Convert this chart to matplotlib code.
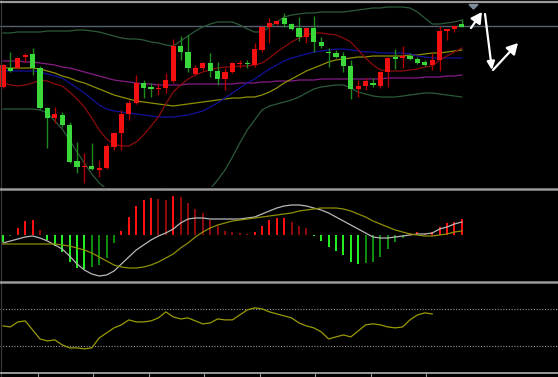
import numpy as np
import matplotlib
matplotlib.use("Agg")
import matplotlib.pyplot as plt
from matplotlib.lines import Line2D
from matplotlib.patches import Polygon, FancyArrowPatch

# ---------------- data ----------------
opens = [103,122,122,133,136,122,82,72,75,65,29,23,24,20,22,43,57,76,87,107,103,101,102,109,144,138,116,122,127,119,
         111,118,126,127,125,140,163,166,172,166,162,153,162,148,138,137,134,124,101,104,107,104,118,133,132,134,131,128,125,130,
         159,161,166]
highs = [126,138,133,137,142,124,83,83,78,68,48,37,47,30,46,58,80,90,115,110,107,107,117,151,154,155,125,128,137,128,
         122,128,130,130,147,164,172,170,177,167,173,163,174,153,142,140,138,130,110,112,112,119,133,141,144,137,133,130,137,164,
         161,164,171]
lows = [102,118,121,128,115,81,42,67,63,27,17,7,20,13,21,40,40,70,86,92,93,95,97,107,130,118,115,120,113,105,
        100,117,122,122,123,138,147,165,163,160,149,147,138,142,123,132,118,91,93,100,103,102,103,121,122,130,126,124,120,119,
        150,158,163]
closes = [125,119,132,135,122,82,72,76,65,28,23,24,21,22,44,57,76,87,107,102,101,102,110,144,138,122,122,127,119,111,
          118,127,127,126,141,163,167,169,166,161,153,162,148,144,137,133,124,101,104,109,105,118,132,131,134,131,127,125,130,159,
          161,164,163]

bb_upper = [157,157,158,158,158,158,159,159,159,159,160,160,159,158,156,154,152,151,151,150,148,147,145,144,149,154,159,163,166,168,
            168,168,165,161,158,158,163,168,173,175,176,177,177,178,178,178,178,179,180,181,182,182,183,183,183,182,178,172,166,166,
            167,168,170]
bb_lower = [81,81,81,81,81,80,77,69,61,50,38,27,16,7,1,-1,-2,-2,-1,0,1,2,2.5,1,-1,-3,-4,-2,1,10,
            20,33,47,60,70,80,84,86,88,90,93,97,101,103,104,105,105,102,98,96,94,93,93,93,94,95,96,97,97,96,
            95,94,93]
ma_purple = [129,129,129,128,128,127,126,125,123,122,120,118,116,114,112,110,109,108,107,106,106,105,105,105,105,106,106,106,106,106,
             106,106,107,107,107,108,108,109,109,109,110,110,110,111,111,111,111,111,111,111,111,111,112,112,112,112,112,113,113,113,
             114,114,115]
ma_olive = [122,122,122,122,122,121,119,117,114,112,109,107,104,101,98,95,93,91,89,88,87,86,85,84,85,86,87,88,89,90,
            91,92,92,93,93,95,98,102,107,111,115,119,122,125,128,130,131,132,133,133,134,134,134,134,134,135,135,136,137,137,
            138,139,140]
ma_blue = [119,119,119,119,119,118,116,114,112,107,102,97,91,85,81,79,78,77,76,75,74,73,73,73,74,75,77,79,83,87,
           92,97,102,107,111,116,121,125,129,132,134,136,138,139,140,141,141,140,139,138,138,137,137,137,137,136,134,133,132,132,
           132,132,132]
ma_maroon = [107,105,104,105,107,110,109,106,104,98,91,83,72,60,51,46,44,44,48,55,64,73,86,98,105,111,115,118,120,122,
             123,123,124,124,125,127,132,138,143,148,152,155,157,157,156,155,152,148,140,132,125,120,119,119,119,120,121,123,124,130,
             134,138,142]
bid_level = 164

macd_hist = [-7,-0.5,7,14,15,5,-5,-11,-17,-27,-33,-34,-32,-30,-23,-8,4,18,29,35,37,36,35,39,38,32,26,22,15,9,
             4,3,2,1,3,9,15,17,17,13,9,7,-0.5,-6,-12,-16,-20,-27,-29,-28,-27,-22,-14,-7,-3,2,3,2,3,8,
             12,13,16]
macd_main = [-8,-6,-4,-2,-1,-3,-6,-10,-14,-21,-29,-35,-39,-41,-40,-36,-29,-22,-15,-10,-5,-1,2,6,12,16,17,17,16,16,
             16,16,16,17,18,21,24,27,29,30,30,29,27,25,22,18,14,10,6,2,-2,-3,-3,-2,-1,0,1,1,2,6,
             8,11,13]
macd_signal = [-9,-9,-9,-9,-9,-9,-9,-9,-10,-11,-13,-15,-18,-22,-26,-30,-32,-33,-33,-32,-30,-27,-23,-19,-13,-8,-2,3,7,10,
               12,14,15,16,17,18,19,20,21,22,24,25,26,27,27,27,26,24,21,18,14,11,8,5,3,1,0,-1,-1,0,
               1,3,4]

rsi = [51.7,50.6,56.0,57.1,47.4,37.7,35.6,36.7,31.3,28.1,28.1,27.0,28.1,38.8,44.2,49.6,52.8,58.2,56.0,56.0,
       57.1,60.3,66.8,61.4,59.2,60.3,57.1,53.9,54.9,59.2,58.2,58.2,63.5,68.9,71.1,70.0,66.8,64.6,62.5,60.3,
       54.9,51.7,49.6,45.3,37.7,39.9,42.0,39.9,46.3,52.8,53.9,52.8,50.6,49.6,50.6,58.2,63.5,65.7,64.6]
rsi_levels = [30, 70]

# ---------------- layout helpers ----------------
W, H = 558, 377
fig = plt.figure(figsize=(W / 100, H / 100), dpi=100, facecolor="black")

def px_axes(y0, y1, x0=0, x1=W):
    ax = fig.add_axes([x0 / W, 1 - y1 / H, (x1 - x0) / W, (y1 - y0) / H])
    ax.set_facecolor("black")
    for s in ax.spines.values():
        s.set_visible(False)
    ax.set_xticks([]); ax.set_yticks([])
    return ax

step = 7.4
x0px = 3
xlim = ((0 - x0px) / step, (W - x0px) / step)

# ---------------- main price panel ----------------
ax = px_axes(3, 187)
ax.set_xlim(*xlim)
ax.set_ylim(3, 187)
n = len(closes)
xs = np.arange(n)

ax.axhline(bid_level, color="#56616d", lw=1.0, zorder=1)

ax.plot(xs, bb_upper, color="#2c5a3a", lw=0.9, zorder=2)
ax.plot(xs, bb_lower, color="#2c5a3a", lw=0.9, zorder=2)
ax.plot(xs, ma_purple, color="#861c86", lw=0.9, zorder=2)
ax.plot(xs, ma_olive, color="#8f8f05", lw=0.9, zorder=2)
ax.plot(xs, ma_blue, color="#12129a", lw=0.9, zorder=2)
ax.plot(xs, ma_maroon, color="#8c0c0c", lw=0.9, zorder=2)

o = np.array(opens, float); c = np.array(closes, float)
hi = np.array(highs, float); lo = np.array(lows, float)
up = c >= o
wick_cols = np.where(up, "#b00000", "#1e8a1e")
body_cols = np.where(up, "#f21010", "#3ad83a")
ax.vlines(xs, lo, hi, colors=wick_cols, lw=1.0, zorder=3)
bottoms = np.minimum(o, c)
heights = np.maximum(np.abs(c - o), 1.0)
ax.bar(xs, heights, bottom=bottoms, width=0.72, color=body_cols, zorder=4, linewidth=0)

# ---------------- MACD panel ----------------
ax2 = px_axes(190, 281)
ax2.set_xlim(*xlim)
ax2.set_ylim(-46, 45)
h = np.array(macd_hist, float)
prev = np.concatenate([[h[0]], h[:-1]])
cols = []
for v, p in zip(h, prev):
    if v >= 0:
        cols.append("#ff1010" if v >= p else "#8e0a0a")
    else:
        cols.append("#22ee22" if v <= p else "#0e8a0e")
ax2.bar(xs, h, width=0.28, color=cols, linewidth=0, zorder=2)
ax2.plot(xs, macd_main, color="#b8b8b8", lw=0.9, zorder=3)
ax2.plot(xs, macd_signal, color="#8f8f05", lw=0.9, zorder=3)

# ---------------- RSI panel ----------------
ax3 = px_axes(281, 374)
ax3.set_xlim(*xlim)
ax3.set_ylim(0, 100)
for lv in rsi_levels:
    ax3.axhline(lv, color="#9a9a9a", lw=0.8, ls=(0, (1, 1.5)), zorder=1)
ax3.plot(np.arange(len(rsi)), rsi, color="#9a9a08", lw=0.9, zorder=2)

# ---------------- frame / separators ----------------
def hline_px(y, color, lw):
    fig.add_artist(Line2D([0, 1], [1 - y / H, 1 - y / H], transform=fig.transFigure,
                          color=color, lw=lw, zorder=10))

hline_px(2, "#9a9a9a", 1.6)
hline_px(188.5, "#9a9a9a", 1.8)
hline_px(282, "#9a9a9a", 1.8)
hline_px(373, "#9a9a9a", 1.4)
fig.add_artist(Line2D([0.8 / W, 0.8 / W], [0, 1], transform=fig.transFigure, color="#3a3a3a", lw=0.8))

tick_px = [38, 93, 149, 204, 260, 315, 371, 426]
for tx in tick_px:
    fig.add_artist(Line2D([tx / W, tx / W], [0, 1 - 373 / H], transform=fig.transFigure,
                          color="#9a9a9a", lw=0.8, zorder=10))

# marker triangle at the top
tri = Polygon([[469 / W, 1 - 4.5 / H], [478 / W, 1 - 4.5 / H], [473.5 / W, 1 - 9 / H]],
              closed=True, transform=fig.transFigure, color="#7d8c9c", zorder=11)
fig.add_artist(tri)

# white hand-drawn arrows
def arrow_px(p0, p1, hl=4, hw=2.2):
    a = FancyArrowPatch((p0[0] / W, 1 - p0[1] / H), (p1[0] / W, 1 - p1[1] / H),
                        transform=fig.transFigure,
                        arrowstyle=f"-|>,head_length={hl},head_width={hw}",
                        color="white", lw=1.6, mutation_scale=1.6, zorder=12,
                        shrinkA=0, shrinkB=0)
    fig.add_artist(a)

arrow_px((471, 28), (482, 12))
arrow_px((485, 14), (492, 70), hl=3, hw=1.4)
arrow_px((493, 70), (518, 43))

fig.savefig("out.png", dpi=100, facecolor="black")
